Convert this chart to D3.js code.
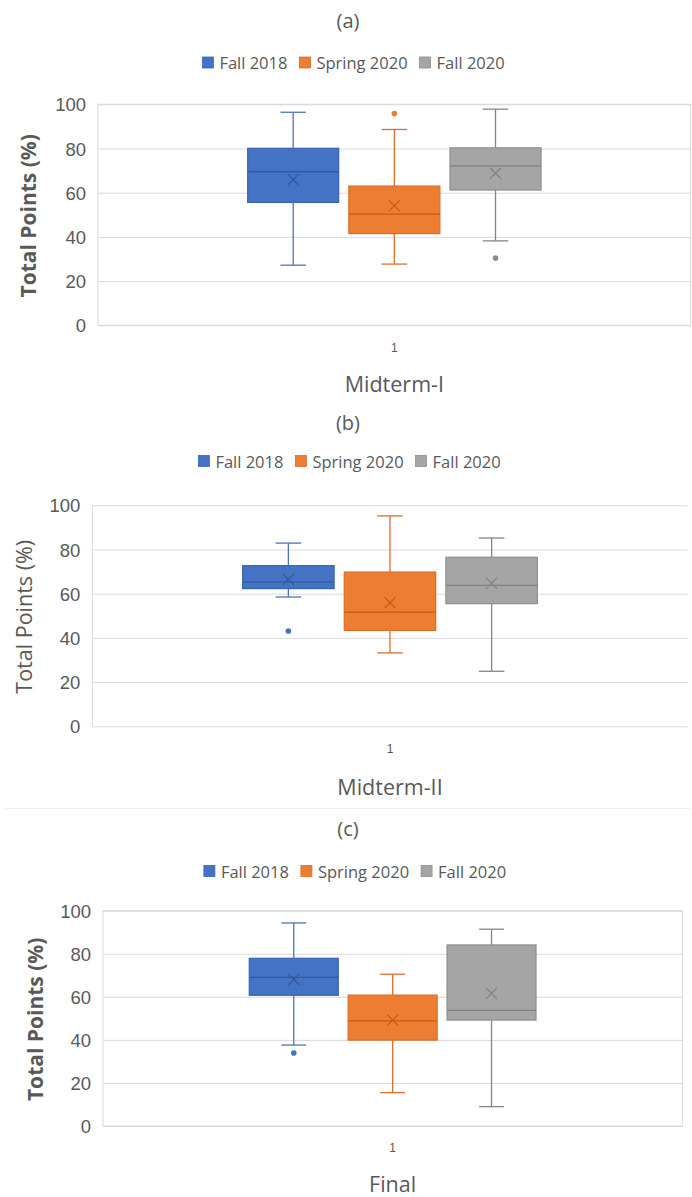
<!DOCTYPE html>
<html>
<head>
<meta charset="utf-8">
<script src="https://d3js.org/d3.v7.min.js"></script>
<style>
  body { margin: 0; background: #fff; }
  svg { display: block; font-family: "Open Sans", sans-serif; }
  .grid line { stroke: #d9d9d9; stroke-width: 1px; }
  .grid text { fill: #595959; font-size: 18.5px; }
  .cat text { fill: #595959; font-size: 12px; }
</style>
</head>
<body>
<script>
// chart data
const panelTags = ["(a)", "(b)", "(c)"];
const exams = ["Midterm-I", "Midterm-II", "Final"];
const terms = ["Fall 2018", "Spring 2020", "Fall 2020"];
const category = ["1"];
const yTicks = [0, 20, 40, 60, 80, 100];

// one row per exam, one value per term
const whiskerLow  = [[27.2, 27.7, 38.2], [58.5, 33.2, 24.9], [37.6, 15.5, 9.0]];
const q1          = [[55.6, 41.5, 61.2], [62.3, 43.4, 55.5], [60.7, 39.9, 49.2]];
const median      = [[69.5, 50.3, 72.1], [65.3, 51.7, 63.8], [69.1, 48.8, 53.7]];
const q3          = [[80.1, 63.0, 80.3], [72.7, 69.8, 76.5], [77.9, 60.8, 84.1]];
const whiskerHigh = [[96.4, 88.6, 97.8], [82.9, 95.2, 85.2], [94.3, 70.5, 91.4]];
const means       = [[65.9, 54.2, 68.8], [66.5, 55.9, 64.8], [68.1, 49.2, 61.6]];
const outliers    = [[[], [95.8], [30.4]], [[43.1], [], []], [[33.9], [], []]];

const fillColors    = ["#4472C4", "#ED7D31", "#A5A5A5"];
const boxStroke     = ["#3A65B5", "#D86E2A", "#8E8E8E"];
const darkColors    = ["#2F5597", "#C55A11", "#808080"];
const whiskerColors = ["#4A74C0", "#DD6E2C", "#858585"];

// page layout of the three charts
const layout = [
  {title: 20,  legend: 62.5, top: 104.3, bottom: 325.3,  left: 98,  right: 690.7, cat: 348,  xTitle: 383,  yTitleX: 28, bold: true,  frame: true,  legendX: 353.5},
  {title: 422, legend: 461,  top: 505.3, bottom: 726.3,  left: 92.3, right: 687.7, cat: 749,  xTitle: 786,  yTitleX: 23, bold: false, frame: false, legendX: 349.5},
  {title: 828, legend: 871,  top: 910.7, bottom: 1126,   left: 103, right: 682.3, cat: 1148, xTitle: 1183.5, yTitleX: 35, bold: true, frame: true, legendX: 355}
];

const W = 692, H = 1197;
const svg = d3.select("body").append("svg").attr("width", W).attr("height", H);

// faint separator under chart (b)
svg.append("line").attr("x1", 5).attr("x2", 690).attr("y1", 808.5).attr("y2", 808.5)
  .attr("stroke", "#eeeeee");

exams.forEach((exam, p) => {
  const L = layout[p];
  const g = svg.append("g");

  const y = d3.scaleLinear().domain([0, 100]).range([L.bottom, L.top]);
  const x = d3.scaleBand().domain(category).range([L.left, L.right]);
  const cx = x("1") + x.bandwidth() / 2;
  const groupW = (L.right - L.left) * 0.495;
  const xs = d3.scaleBand().domain(terms).range([cx - groupW / 2, cx + groupW / 2]).paddingInner(0.1);

  // title and legend
  g.append("text").attr("x", 348).attr("y", L.title).attr("text-anchor", "middle")
    .attr("dominant-baseline", "central").attr("fill", "#595959").attr("font-size", 20)
    .text(panelTags[p]);

  const leg = g.append("g");
  let lx = 0;
  terms.forEach((t, i) => {
    leg.append("rect").attr("x", lx).attr("y", L.legend - 5.5).attr("width", 11).attr("height", 11)
      .attr("fill", fillColors[i]).attr("stroke", boxStroke[i]).attr("stroke-width", 0.8);
    const tx = leg.append("text").attr("x", lx + 17).attr("y", L.legend)
      .attr("dominant-baseline", "central").attr("fill", "#595959").attr("font-size", 16.5).text(t);
    lx += 17 + tx.node().getComputedTextLength() + 12;
  });
  lx -= 12;
  leg.attr("transform", `translate(${L.legendX - lx / 2},0)`);

  // gridlines + y tick labels
  const gridAxis = d3.axisLeft(y).tickValues(yTicks).tickSize(-(L.right - L.left)).tickPadding(12);
  const grid = g.append("g").attr("class", "grid").attr("transform", `translate(${L.left},0)`).call(gridAxis);
  grid.select(".domain").remove();
  grid.selectAll("text").attr("dy", "0.36em");

  if (L.frame) {
    g.append("rect").attr("x", L.left).attr("y", L.top).attr("width", L.right - L.left)
      .attr("height", L.bottom - L.top).attr("fill", "none").attr("stroke", "#d9d9d9");
  } else {
    g.append("line").attr("x1", L.left).attr("x2", L.left).attr("y1", L.top).attr("y2", L.bottom)
      .attr("stroke", "#d9d9d9");
  }

  // category axis
  const cat = g.append("g").attr("class", "cat").attr("transform", `translate(0,${L.bottom})`)
    .call(d3.axisBottom(x).tickSize(0).tickPadding(L.cat - L.bottom));
  cat.select(".domain").remove();
  cat.selectAll("text").attr("dy", "0.36em");

  // axis titles
  g.append("text").attr("x", cx).attr("y", L.xTitle).attr("text-anchor", "middle")
    .attr("dominant-baseline", "central").attr("fill", "#595959").attr("font-size", 21.5).text(exam);
  const ym = (L.top + L.bottom) / 2 + 1;
  g.append("text").attr("transform", `translate(${L.yTitleX},${ym}) rotate(-90)`)
    .attr("text-anchor", "middle").attr("dominant-baseline", "central")
    .attr("fill", "#595959").attr("font-size", L.bold ? 21 : 21.5)
    .attr("font-weight", L.bold ? 700 : 400).text("Total Points (%)");

  // boxes
  terms.forEach((t, i) => {
    const bx = xs(t), bw = xs.bandwidth(), mx = bx + bw / 2, cap = bw * 0.14;
    const b = g.append("g");
    // whiskers
    b.append("line").attr("x1", mx).attr("x2", mx).attr("y1", y(whiskerHigh[p][i])).attr("y2", y(q3[p][i]))
      .attr("stroke", whiskerColors[i]).attr("stroke-width", 1.3);
    b.append("line").attr("x1", mx).attr("x2", mx).attr("y1", y(q1[p][i])).attr("y2", y(whiskerLow[p][i]))
      .attr("stroke", whiskerColors[i]).attr("stroke-width", 1.3);
    [whiskerHigh[p][i], whiskerLow[p][i]].forEach(v => {
      b.append("line").attr("x1", mx - cap).attr("x2", mx + cap).attr("y1", y(v)).attr("y2", y(v))
        .attr("stroke", whiskerColors[i]).attr("stroke-width", 1.3);
    });
    // box
    b.append("rect").attr("x", bx).attr("y", y(q3[p][i])).attr("width", bw)
      .attr("height", y(q1[p][i]) - y(q3[p][i]))
      .attr("fill", fillColors[i]).attr("stroke", boxStroke[i]).attr("stroke-width", 1.2);
    // median
    b.append("line").attr("x1", bx).attr("x2", bx + bw).attr("y1", y(median[p][i])).attr("y2", y(median[p][i]))
      .attr("stroke", darkColors[i]).attr("stroke-width", 1.2);
    // mean marker
    const my = y(means[p][i]), s = 5.5;
    b.append("path").attr("d", `M${mx - s},${my - s}L${mx + s},${my + s}M${mx - s},${my + s}L${mx + s},${my - s}`)
      .attr("stroke", darkColors[i]).attr("stroke-width", 1.1).attr("fill", "none");
    // outliers
    b.selectAll("circle.out").data(outliers[p][i]).join("circle").attr("class", "out")
      .attr("cx", mx).attr("cy", d => y(d)).attr("r", 2.8).attr("fill", i === 2 ? "#8C8C8C" : fillColors[i]);
  });
});
</script>
</body>
</html>
